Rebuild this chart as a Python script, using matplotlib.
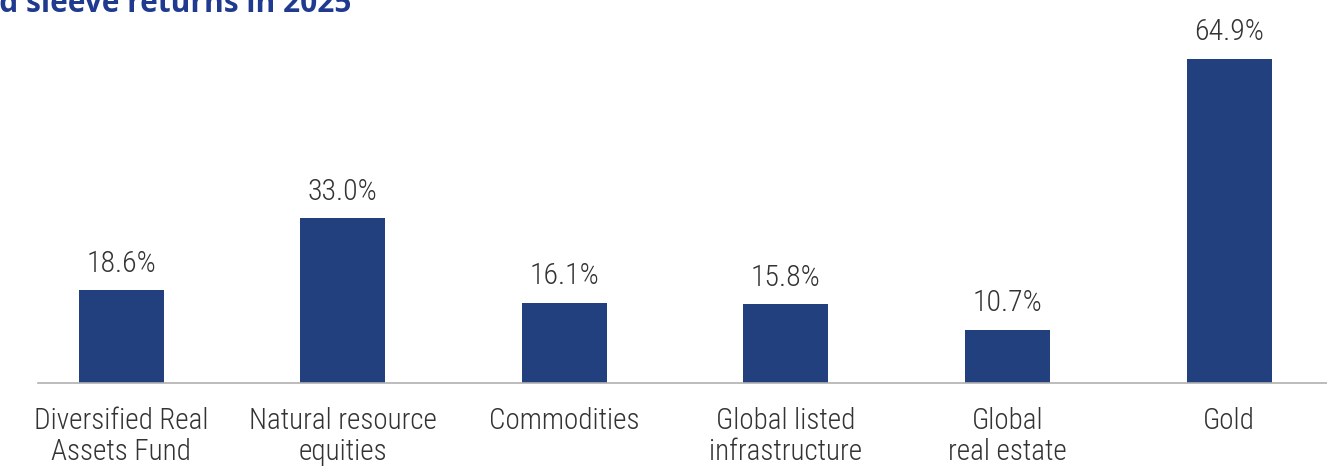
import matplotlib
matplotlib.use("Agg")
import matplotlib.pyplot as plt
from matplotlib import font_manager

categories = ["Diversified Real\nAssets Fund", "Natural resource\nequities", "Commodities",
              "Global listed\ninfrastructure", "Global\nreal estate", "Gold"]
returns = [18.6, 33.0, 16.1, 15.8, 10.7, 64.9]
title = "Diversified Real Assets Fund sleeve returns in 2025"

# pick a condensed face if one is installed
fonts = font_manager.fontManager.ttflist
names = {f.name for f in fonts}
narrow, stretch = "DejaVu Sans", "normal"
for cand in ["Roboto Condensed", "Open Sans Condensed", "Liberation Sans Narrow",
             "Noto Sans Condensed", "DejaVu Sans Condensed"]:
    if cand in names:
        narrow = cand
        break
else:
    cond = [f for f in fonts if isinstance(f.stretch, int) and f.stretch < 500
            or f.stretch in ("condensed", "semi-condensed", "extra-condensed")]
    if cond:
        narrow, stretch = cond[0].name, "condensed"

W, H = 1327, 470
fig = plt.figure(figsize=(W / 100, H / 100), dpi=100)
ax = fig.add_axes([38 / W, 87 / H, 1 - 38 / W, 363 / H])

bar_color = "#223f7e"
txt = dict(color="#333333", family=narrow, stretch=stretch, fontweight="light")
x = list(range(len(categories)))
ax.bar(x, returns, width=0.384, color=bar_color, zorder=2)
for xi, v in zip(x, returns):
    ax.annotate(f"{v:.1f}%", (xi, v), xytext=(0, 9), textcoords="offset points",
                ha="center", va="bottom", fontsize=21.5, **txt)

ax.set_xlim(-0.375, 5.442)
ax.set_ylim(0, 72.7)
ax.set_yticks([])
ax.set_xticks(x)
ax.set_xticklabels(categories, fontsize=21, linespacing=1.15, **txt)
ax.tick_params(axis="x", length=0, pad=17)
for s in ["top", "right", "left"]:
    ax.spines[s].set_visible(False)
ax.spines["bottom"].set_color("#b0b0b0")
ax.spines["bottom"].set_linewidth(1.2)

fig.text(351 / W, 1 - 12 / H, title, ha="right", va="baseline", fontsize=21.5,
         fontweight="bold", color="#1f3a8f", family=["Open Sans", "DejaVu Sans"])

fig.savefig("out.png", dpi=100)
